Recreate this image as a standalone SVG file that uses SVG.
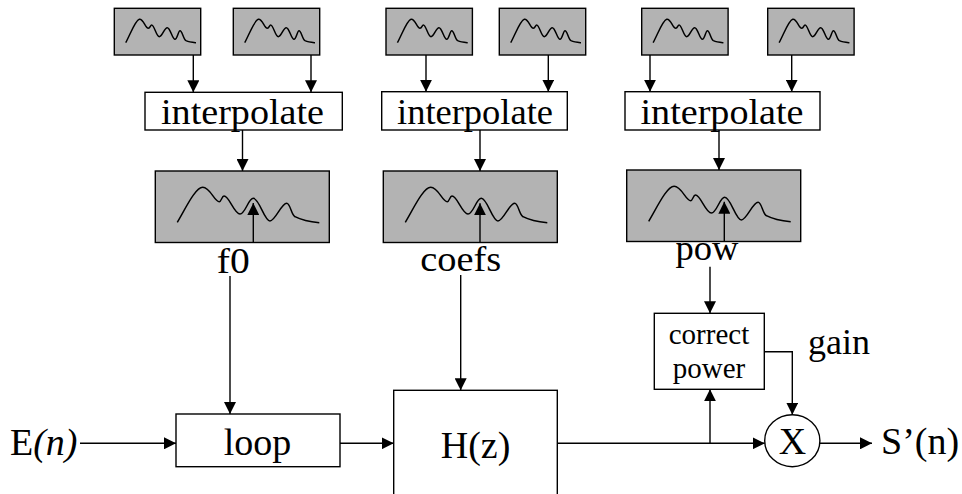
<svg xmlns="http://www.w3.org/2000/svg" xmlns:xlink="http://www.w3.org/1999/xlink" width="962" height="494" viewBox="0 0 962 494">
<style>
  .box { fill: #ffffff; stroke: #000; stroke-width: 1.4; }
  .gbox { fill: #b3b3b3; stroke: #000; stroke-width: 1.4; }
  .wave { fill: none; stroke: #000; stroke-width: 1.5; }
  .conn { fill: none; stroke: #000; stroke-width: 1.4; }
  .t { font-family: "Liberation Serif", "Times New Roman", serif; fill: #000; }
  .big { font-size: 38px; }
  .top { font-size: 36px; }
  .small { font-size: 29px; }
</style>
<defs>
  <marker id="arr" viewBox="0 0 12 12" refX="12" refY="6" markerWidth="12" markerHeight="12" markerUnits="userSpaceOnUse" orient="auto">
    <path d="M0,0 L12,6 L0,12 z" fill="#000"/>
  </marker>
  <path id="wsmall" class="wave" d="M11.4,34.4 C16,26 21,12 25,11 C29,10 31,20 34,20 C36,20 36,16.7 37.4,16.7 C40,16.7 42,28.4 45,28.4 C48,28.4 50,19.4 53,19.4 C56,19.4 58,31 60.7,31 C63,31 64,22.4 65.7,22.4 C68,22.4 69,31 71.7,32.4 C75,34 79,34.2 81.7,34.4"/>
  <path id="wbig" class="wave" d="M22,51.3 C30,38 40,16.3 47.4,16.3 C55,16.3 59,30.7 64,30.7 C66,30.7 66.5,25 68.7,25 C74,25 79,43 84.7,43 C90,43 93,27.3 98,27.3 C104,27.3 109,50 114.7,50 C120,50 126,32.3 131.4,32.3 C135,32.3 136,44 139.7,45.7 C146,49 156,51 164,51.7"/>
</defs>

<!-- small spectrum boxes -->
<g id="spec1a"><rect class="gbox" x="114.3" y="8.3" width="86.4" height="46.7"/><use xlink:href="#wsmall" x="114.3" y="8.3"/></g>
<g id="spec1b"><rect class="gbox" x="233.3" y="8.3" width="86.4" height="46.7"/><use xlink:href="#wsmall" x="233.3" y="8.3"/></g>
<g id="spec2a"><rect class="gbox" x="386" y="8.3" width="86.4" height="46.7"/><use xlink:href="#wsmall" x="386" y="8.3"/></g>
<g id="spec2b"><rect class="gbox" x="499.3" y="8.3" width="86.4" height="46.7"/><use xlink:href="#wsmall" x="499.3" y="8.3"/></g>
<g id="spec3a"><rect class="gbox" x="641.7" y="8.3" width="86.4" height="46.7"/><use xlink:href="#wsmall" x="641.7" y="8.3"/></g>
<g id="spec3b"><rect class="gbox" x="767.7" y="8.3" width="86.4" height="46.7"/><use xlink:href="#wsmall" x="767.7" y="8.3"/></g>

<!-- interpolate boxes -->
<g id="interp1"><rect class="box" x="145" y="92.3" width="197.3" height="37.7"/><text class="t top" x="242.5" y="123.5" text-anchor="middle" textLength="163" lengthAdjust="spacingAndGlyphs">interpolate</text></g>
<g id="interp2"><rect class="box" x="381.7" y="91.7" width="185.6" height="38.3"/><text class="t top" x="475" y="123.5" text-anchor="middle" textLength="156" lengthAdjust="spacingAndGlyphs">interpolate</text></g>
<g id="interp3"><rect class="box" x="625" y="91.7" width="195" height="38.3"/><text class="t top" x="722" y="123.5" text-anchor="middle" textLength="163" lengthAdjust="spacingAndGlyphs">interpolate</text></g>

<!-- big spectrum boxes -->
<g id="specF0"><rect class="gbox" x="155.3" y="171" width="174" height="71.5"/><use xlink:href="#wbig" x="155.3" y="171"/></g>
<g id="specCoefs"><rect class="gbox" x="383.3" y="171" width="174" height="71.5"/><use xlink:href="#wbig" x="383.3" y="171"/></g>
<g id="specPow"><rect class="gbox" x="626.7" y="170" width="174" height="71.5"/><use xlink:href="#wbig" x="626.7" y="170"/></g>

<!-- labels -->
<g id="lbl-f0"><text class="t top" x="233.3" y="272.7" text-anchor="middle" textLength="33" lengthAdjust="spacingAndGlyphs">f0</text></g>
<g id="lbl-coefs"><text class="t top" x="460.7" y="271" text-anchor="middle" textLength="81" lengthAdjust="spacingAndGlyphs">coefs</text></g>
<g id="lbl-pow"><text class="t top" x="707" y="260" text-anchor="middle" textLength="63" lengthAdjust="spacingAndGlyphs">pow</text></g>

<!-- correct power -->
<g id="correct"><rect class="box" x="654.3" y="313.3" width="110" height="76"/>
  <text class="t small" x="709" y="344.3" text-anchor="middle">correct</text>
  <text class="t small" x="709" y="378.3" text-anchor="middle">power</text></g>
<g id="lbl-gain"><text class="t" style="font-size:36px" x="808" y="354">gain</text></g>

<!-- bottom chain -->
<g id="input"><text class="t big" x="10" y="455">E<tspan font-style="italic">(n)</tspan></text></g>
<g id="loop"><rect class="box" x="176" y="414" width="164" height="52.7"/><text class="t big" x="257.5" y="455" text-anchor="middle">loop</text></g>
<g id="hz"><rect class="box" x="393.7" y="390.3" width="163.6" height="120"/><text class="t big" x="475.5" y="458.3" text-anchor="middle">H(z)</text></g>
<g id="mult"><ellipse class="box" cx="792.3" cy="440.7" rx="27.6" ry="26"/><text class="t big" x="792.5" y="454" text-anchor="middle">X</text></g>
<g id="output"><text class="t big" x="881" y="454">S’(n)</text></g>

<!-- connectors -->
<g id="connectors">
  <line class="conn" x1="193.3" y1="55" x2="193.3" y2="92.3" marker-end="url(#arr)"/>
  <line class="conn" x1="311" y1="55" x2="311" y2="92.3" marker-end="url(#arr)"/>
  <line class="conn" x1="426" y1="55" x2="426" y2="91.7" marker-end="url(#arr)"/>
  <line class="conn" x1="548.3" y1="55" x2="548.3" y2="91.7" marker-end="url(#arr)"/>
  <line class="conn" x1="650" y1="55" x2="650" y2="91.7" marker-end="url(#arr)"/>
  <line class="conn" x1="791.7" y1="55" x2="791.7" y2="91.7" marker-end="url(#arr)"/>

  <line class="conn" x1="242.5" y1="130" x2="242.5" y2="171" marker-end="url(#arr)"/>
  <line class="conn" x1="480" y1="130" x2="480" y2="171" marker-end="url(#arr)"/>
  <line class="conn" x1="719" y1="130" x2="719" y2="170" marker-end="url(#arr)"/>

  <line class="conn" x1="253.3" y1="242.5" x2="253.3" y2="203" marker-end="url(#arr)"/>
  <line class="conn" x1="480" y1="242.5" x2="480" y2="203.3" marker-end="url(#arr)"/>
  <line class="conn" x1="724.3" y1="241.5" x2="724.3" y2="201.7" marker-end="url(#arr)"/>

  <line class="conn" x1="230" y1="276" x2="230" y2="414" marker-end="url(#arr)"/>
  <line class="conn" x1="460.7" y1="275" x2="460.7" y2="390.3" marker-end="url(#arr)"/>
  <line class="conn" x1="710" y1="266.7" x2="710" y2="313.3" marker-end="url(#arr)"/>

  <line class="conn" x1="80" y1="443.3" x2="176" y2="443.3" marker-end="url(#arr)"/>
  <line class="conn" x1="340" y1="443.3" x2="393.7" y2="443.3" marker-end="url(#arr)"/>
  <line class="conn" x1="557.3" y1="443.3" x2="764.7" y2="443.3" marker-end="url(#arr)"/>
  <line class="conn" x1="710" y1="443.3" x2="710" y2="389.3" marker-end="url(#arr)"/>
  <polyline class="conn" points="764.3,351.7 792.3,351.7 792.3,414.7" marker-end="url(#arr)"/>
  <line class="conn" x1="820" y1="443.3" x2="872" y2="443.3" marker-end="url(#arr)"/>
</g>
</svg>
